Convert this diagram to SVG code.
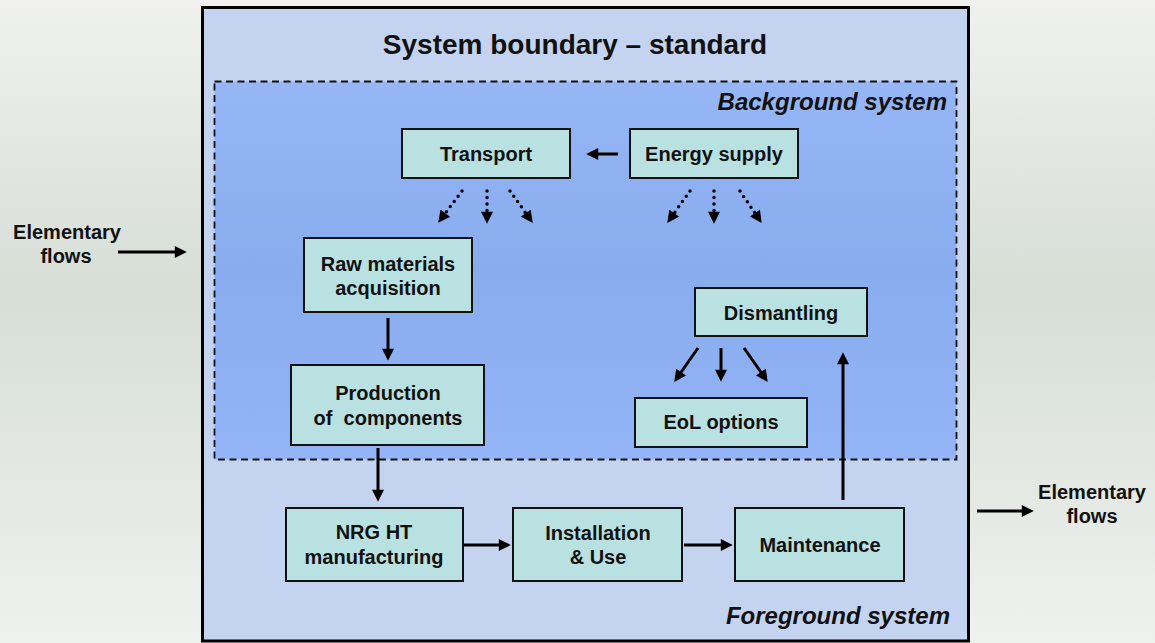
<svg xmlns="http://www.w3.org/2000/svg" width="1155" height="643" viewBox="0 0 1155 643">
<defs>
<linearGradient id="page" x1="0" y1="0" x2="0" y2="1">
<stop offset="0" stop-color="#f0f1ee"/>
<stop offset="0.45" stop-color="#d6ded6"/>
<stop offset="1" stop-color="#eff1ee"/>
</linearGradient>
<linearGradient id="bg" x1="0" y1="0" x2="0" y2="1">
<stop offset="0" stop-color="#96b6f6"/>
<stop offset="0.5" stop-color="#88acee"/>
<stop offset="1" stop-color="#93b4f6"/>
</linearGradient>
<marker id="ah" viewBox="0 0 10 10" refX="6" refY="5" markerWidth="13" markerHeight="12" markerUnits="userSpaceOnUse" orient="auto">
<path d="M0,0 L10,5 L0,10 z" fill="#000"/>
</marker>
</defs>
<style>
.node rect{fill:#b9e1e1;stroke:#111;stroke-width:2}
.node text{font-family:"Liberation Sans",Arial,sans-serif;font-weight:bold;font-size:20px;fill:#111;text-anchor:middle;white-space:pre}
.lbl{font-family:"Liberation Sans",Arial,sans-serif;font-weight:bold;fill:#111}
.ital{font-style:italic;font-size:24px;text-anchor:end}
.ef{font-size:20px;text-anchor:middle}
.solid{fill:none;stroke:#000;stroke-width:3;marker-end:url(#ah)}
.dot{fill:none;stroke:#000;stroke-width:3.5;stroke-linecap:round;stroke-dasharray:0 6.5;marker-end:url(#ah)}
</style>
<rect x="0" y="0" width="1155" height="643" fill="url(#page)"/>
<rect x="202.5" y="7.5" width="766" height="633.5" fill="#c4d4f0" stroke="#000" stroke-width="3"/>
<rect x="214.5" y="81.5" width="742" height="378" fill="url(#bg)" stroke="#111" stroke-width="1.8" stroke-dasharray="7 4.5"/>
<text class="lbl" x="575" y="54" font-size="28" text-anchor="middle">System boundary – standard</text>
<text class="lbl ital" x="947" y="110">Background system</text>
<text class="lbl ital" x="950" y="624">Foreground system</text>
<text class="lbl ef" x="67" y="239">Elementary</text>
<text class="lbl ef" x="66" y="263">flows</text>
<text class="lbl ef" x="1092" y="499">Elementary</text>
<text class="lbl ef" x="1092" y="523">flows</text>
<g id="connectors">
<path class="solid" d="M118,252 L182,252"/>
<path class="solid" d="M977,511 L1029,511"/>
<path class="solid" d="M618,154 L591,154"/>
<path class="dot" d="M462,191 L441,219"/>
<path class="dot" d="M487,191 L487,219"/>
<path class="dot" d="M510,191 L530,219"/>
<path class="dot" d="M690,191 L670,219"/>
<path class="dot" d="M714,191 L714,219"/>
<path class="dot" d="M740,191 L759,219"/>
<path class="solid" d="M388,318 L388,356"/>
<path class="solid" d="M378,448 L378,497"/>
<path class="solid" d="M463,545 L506,545"/>
<path class="solid" d="M684,545 L728,545"/>
<path class="solid" d="M843,500 L843,357"/>
<path class="solid" d="M698,348 L677,378"/>
<path class="solid" d="M721,348 L721,377"/>
<path class="solid" d="M744,348 L765,378"/>
</g>
<g id="transport" class="node"><rect x="402" y="129" width="168" height="49"/><text x="486" y="161">Transport</text></g>
<g id="energy-supply" class="node"><rect x="630" y="129" width="168" height="49"/><text x="714" y="161">Energy supply</text></g>
<g id="raw-materials" class="node"><rect x="304" y="238" width="168" height="74"/><text x="388" y="271">Raw materials</text><text x="388" y="295">acquisition</text></g>
<g id="production" class="node"><rect x="291" y="365" width="193" height="80"/><text x="388" y="400">Production</text><text x="388" y="425">of  components</text></g>
<g id="nrg-ht" class="node"><rect x="286" y="508" width="177" height="73"/><text x="374" y="539">NRG HT</text><text x="374" y="564">manufacturing</text></g>
<g id="installation" class="node"><rect x="513" y="508" width="169" height="73"/><text x="598" y="540">Installation</text><text x="598" y="564">&amp; Use</text></g>
<g id="maintenance" class="node"><rect x="735" y="508" width="169" height="73"/><text x="820" y="552">Maintenance</text></g>
<g id="dismantling" class="node"><rect x="695" y="288" width="172" height="48"/><text x="781" y="320">Dismantling</text></g>
<g id="eol-options" class="node"><rect x="635" y="398" width="172" height="49"/><text x="721" y="429">EoL options</text></g>
</svg>
